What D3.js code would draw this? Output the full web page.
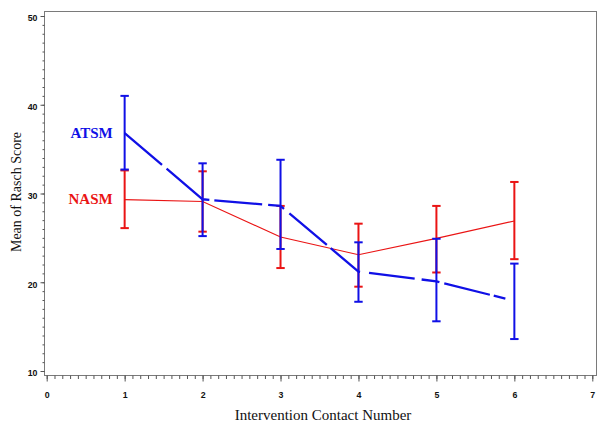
<!DOCTYPE html>
<html>
<head>
<meta charset="utf-8">
<script src="https://cdn.jsdelivr.net/npm/d3@7"></script>
<style>
  html, body { margin: 0; padding: 0; background: #ffffff; }
  svg { display: block; }
</style>
</head>
<body>
<script>
// ---- data ----
const contacts  = [1, 2, 3, 4, 5, 6];
const atsmMean  = [36.8, 29.35, 28.6, 21.2, 20.1, 17.9];
const atsmUpper = [41.0, 33.4, 33.8, 24.5, 24.9, 22.1];
const atsmLower = [32.7, 25.2, 23.75, 17.8, 15.6, 13.6];
const nasmMean  = [29.3, 29.1, 25.1, 23.1, 24.95, 26.9];
const nasmUpper = [32.6, 32.5, 28.6, 26.6, 28.6, 31.3];
const nasmLower = [26.1, 25.7, 21.6, 19.5, 21.1, 22.6];
const xTicks = [0, 1, 2, 3, 4, 5, 6, 7];
const yTicks = [10, 20, 30, 40, 50];
const seriesNames = ["ATSM", "NASM"];
const xTitle = "Intervention Contact Number";
const yTitle = "Mean of Rasch Score";

// ---- layout ----
const W = 605, H = 432;
const frame = { left: 44, right: 596, top: 11, bottom: 375 };
const x = d3.scaleLinear().domain([0, 7]).range([46.7, 592.3]);
const y = d3.scaleLinear().domain([10, 50]).range([371, 16]);

const blue = "#1010e6";
const red = "#ea1414";
const frameColor = "#7a7a7a";
const blueDash = "49,6,54,5,48,6,17,7,49,5,38,9,46,7,18,5,47,4,12,20";

const svg = d3.select("body").append("svg")
  .attr("width", W).attr("height", H);

// frame
svg.append("rect")
  .attr("x", frame.left + 0.5).attr("y", frame.top + 0.5)
  .attr("width", frame.right - frame.left).attr("height", frame.bottom - frame.top)
  .attr("fill", "none").attr("stroke", frameColor).attr("stroke-width", 1);

// y axis minor ticks
const yMinor = d3.axisLeft(y).tickValues(d3.range(10, 51, 1)).tickSize(2).tickFormat("");
svg.append("g").attr("transform", `translate(${frame.left + 0.5},0)`).call(yMinor)
  .call(g => g.select(".domain").remove())
  .call(g => g.selectAll("line").attr("stroke", "#555"));

// y axis major
const yAxis = d3.axisLeft(y).tickValues(yTicks).tickSize(4).tickPadding(3);
svg.append("g").attr("transform", `translate(${frame.left + 0.5},0)`).call(yAxis)
  .call(g => g.select(".domain").remove())
  .call(g => g.selectAll("line").attr("stroke", "#555"))
  .call(g => g.selectAll("text")
    .attr("dy", "0.55em")
    .attr("font-family", "Liberation Sans, Arial, sans-serif")
    .attr("font-weight", "bold").attr("font-size", 8.8).attr("fill", "#111"));

// x axis minor ticks
const xMinor = d3.axisBottom(x).tickValues(d3.range(0, 70.5, 1).map(v => v / 10)).tickSize(3.5).tickFormat("");
svg.append("g").attr("transform", `translate(0,${frame.bottom + 0.5})`).call(xMinor)
  .call(g => g.select(".domain").remove())
  .call(g => g.selectAll("line").attr("stroke", "#555"));

// x axis major
const xAxis = d3.axisBottom(x).tickValues(xTicks).tickSize(6).tickFormat(d3.format("d"));
svg.append("g").attr("transform", `translate(0,${frame.bottom + 0.5})`).call(xAxis)
  .call(g => g.select(".domain").remove())
  .call(g => g.selectAll("line").attr("stroke", "#555"))
  .call(g => g.selectAll("text")
    .attr("y", 22).attr("dy", 0)
    .attr("font-family", "Liberation Sans, Arial, sans-serif")
    .attr("font-weight", "bold").attr("font-size", 8.8).attr("fill", "#111"));

// axis titles
svg.append("text")
  .attr("x", (frame.left + frame.right) / 2 + 3).attr("y", 420)
  .attr("text-anchor", "middle")
  .attr("font-family", "Liberation Serif, Times New Roman, serif")
  .attr("font-size", 15).attr("fill", "#111")
  .text(xTitle);

svg.append("text")
  .attr("transform", "translate(20.5,192) rotate(-90)")
  .attr("text-anchor", "middle")
  .attr("font-family", "Liberation Serif, Times New Roman, serif")
  .attr("font-size", 14).attr("fill", "#111")
  .text(yTitle);

// series drawing helpers
function toPts(means, uppers, lowers) {
  return contacts.map((c, i) => ({ c, m: means[i], u: uppers[i], l: lowers[i] }));
}
function drawLine(pts, color, lineWidth, dash) {
  svg.append("path")
    .datum(pts)
    .attr("d", d3.line().x(d => x(d.c)).y(d => y(d.m)))
    .attr("fill", "none").attr("stroke", color)
    .attr("stroke-width", lineWidth)
    .attr("stroke-dasharray", dash || null);
}
function drawBars(pts, color) {
  const g = svg.append("g").attr("stroke", color).attr("stroke-width", 2).attr("fill", "none");
  g.selectAll("line.v").data(pts).join("line").attr("class", "v")
    .attr("x1", d => x(d.c)).attr("x2", d => x(d.c))
    .attr("y1", d => y(d.u)).attr("y2", d => y(d.l));
  g.selectAll("line.u").data(pts).join("line").attr("class", "u")
    .attr("x1", d => x(d.c) - 4.2).attr("x2", d => x(d.c) + 4.2)
    .attr("y1", d => y(d.u)).attr("y2", d => y(d.u));
  g.selectAll("line.l").data(pts).join("line").attr("class", "l")
    .attr("x1", d => x(d.c) - 4.2).attr("x2", d => x(d.c) + 4.2)
    .attr("y1", d => y(d.l)).attr("y2", d => y(d.l));
}

const nasmPts = toPts(nasmMean, nasmUpper, nasmLower);
const atsmPts = toPts(atsmMean, atsmUpper, atsmLower);
drawLine(nasmPts, red, 1.2, null);
drawBars(nasmPts, red);
drawBars(atsmPts, blue);
drawLine(atsmPts, blue, 2.3, blueDash);

// series labels
const labelData = [
  { name: seriesNames[0], v: atsmMean[0], color: blue },
  { name: seriesNames[1], v: nasmMean[0], color: red }
];
svg.selectAll("text.lbl").data(labelData).join("text").attr("class", "lbl")
  .attr("x", x(contacts[0]) - 12).attr("y", d => y(d.v) + 4.5)
  .attr("text-anchor", "end")
  .attr("font-family", "Liberation Serif, Times New Roman, serif")
  .attr("font-weight", "bold").attr("font-size", 15)
  .attr("fill", d => d.color)
  .text(d => d.name);
</script>
</body>
</html>
